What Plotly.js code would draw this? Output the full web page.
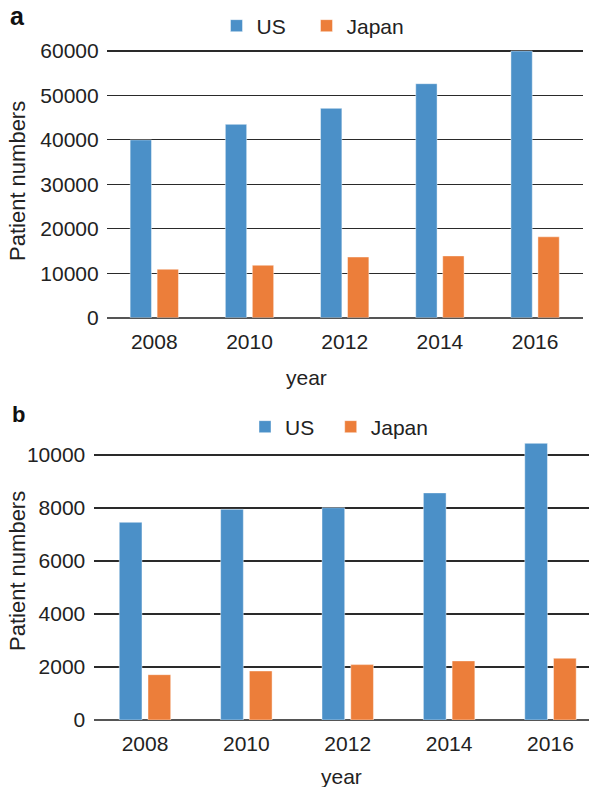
<!DOCTYPE html>
<html>
<head>
<meta charset="utf-8">
<script src="https://cdn.plot.ly/plotly-3.0.1.min.js"></script>
<style>html,body{margin:0;padding:0;background:#fff}#chart{width:589px;height:787px}</style>
</head>
<body>
<div id="chart"></div>
<script>
// Data
const years = ['2008', '2010', '2012', '2014', '2016'];
const usA = [40000, 43500, 47100, 52650, 60000];
const japanA = [10900, 11800, 13650, 13900, 18200];
const usB = [7460, 7950, 8010, 8570, 10440];
const japanB = [1710, 1850, 2090, 2230, 2330];
const seriesNames = ['US', 'Japan'];

const W = 589, H = 787;
const px = v => v / W;
const py = v => 1 - v / H;
const blue = '#4b90c8', orange = '#ec7e3a';
const txt = '#222222';
const fontFam = 'Liberation Sans, Arial, sans-serif';
const FS = 21;
const barLine = {color: 'rgba(255,255,255,0.55)', width: 0.8};

const traces = [
  {type: 'bar', name: seriesNames[0], x: years, y: usA, xaxis: 'x', yaxis: 'y', legend: 'legend',
   marker: {color: blue, line: barLine}},
  {type: 'bar', name: seriesNames[1], x: years, y: japanA, xaxis: 'x', yaxis: 'y', legend: 'legend2',
   marker: {color: orange, line: barLine}},
  {type: 'bar', name: seriesNames[0], x: years, y: usB, xaxis: 'x2', yaxis: 'y2', legend: 'legend3',
   marker: {color: blue, line: barLine}},
  {type: 'bar', name: seriesNames[1], x: years, y: japanB, xaxis: 'x2', yaxis: 'y2', legend: 'legend4',
   marker: {color: orange, line: barLine}}
];

const yCommon = {
  showgrid: true, gridcolor: '#2a2a2a', gridwidth: 1.1,
  zeroline: true, zerolinecolor: '#555555', zerolinewidth: 1.6,
  tickformat: 'd', ticks: '',
  tickfont: {size: FS, color: txt, family: fontFam}, fixedrange: true
};
const xCommon = {
  type: 'category', showgrid: false, zeroline: false, showline: false, ticks: '',
  ticklabelstandoff: 9,
  tickfont: {size: FS, color: txt, family: fontFam}, fixedrange: true
};
const leg = (xpx, ypx) => ({
  orientation: 'h', x: px(xpx), xanchor: 'left', y: py(ypx), yanchor: 'middle',
  font: {size: FS, color: txt, family: fontFam}, bgcolor: 'rgba(0,0,0,0)'
});

const layout = {
  width: W, height: H,
  margin: {l: 0, r: 0, t: 0, b: 0},
  paper_bgcolor: '#ffffff', plot_bgcolor: '#ffffff',
  font: {family: fontFam, color: txt, size: FS},
  showlegend: true,
  barmode: 'group', bargap: 0.433, bargroupgap: 0.21,
  xaxis: Object.assign({}, xCommon, {domain: [px(106.7), px(582.7)], range: [-0.5, 4.5], anchor: 'y'}),
  yaxis: Object.assign({}, yCommon, {domain: [py(317.7), py(48.8)], range: [0, 60500], dtick: 10000,
                                     anchor: 'x', ticklabelstandoff: 7}),
  xaxis2: Object.assign({}, xCommon, {domain: [px(94.3), 1], range: [-0.5, 4.38], anchor: 'y2'}),
  yaxis2: Object.assign({}, yCommon, {domain: [py(720), py(439.1)], range: [0, 10600], dtick: 2000,
                                      anchor: 'x2', ticklabelstandoff: 8}),
  legend: leg(216.5, 26),
  legend2: leg(306.5, 26),
  legend3: leg(245, 427),
  legend4: leg(330.7, 427),
  annotations: [
    {text: '<b>a</b>', xref: 'paper', yref: 'paper', x: px(17), y: py(16.5), xanchor: 'center', yanchor: 'middle',
     showarrow: false, font: {size: 25, color: '#111', family: fontFam}},
    {text: '<b>b</b>', xref: 'paper', yref: 'paper', x: px(18), y: py(414), xanchor: 'center', yanchor: 'middle',
     showarrow: false, font: {size: 22, color: '#111', family: fontFam}},
    {text: 'Patient numbers', xref: 'paper', yref: 'paper', x: px(17), y: py(181), xanchor: 'center', yanchor: 'middle',
     textangle: -90, showarrow: false, font: {size: 22, color: txt, family: fontFam}},
    {text: 'Patient numbers', xref: 'paper', yref: 'paper', x: px(17), y: py(571), xanchor: 'center', yanchor: 'middle',
     textangle: -90, showarrow: false, font: {size: 22, color: txt, family: fontFam}},
    {text: 'year', xref: 'paper', yref: 'paper', x: px(306.5), y: py(378), xanchor: 'center', yanchor: 'middle',
     showarrow: false, font: {size: FS, color: txt, family: fontFam}},
    {text: 'year', xref: 'paper', yref: 'paper', x: px(341.5), y: py(776.5), xanchor: 'center', yanchor: 'middle',
     showarrow: false, font: {size: FS, color: txt, family: fontFam}}
  ]
};

Plotly.newPlot('chart', traces, layout, {displayModeBar: false, staticPlot: true});
</script>
</body>
</html>
